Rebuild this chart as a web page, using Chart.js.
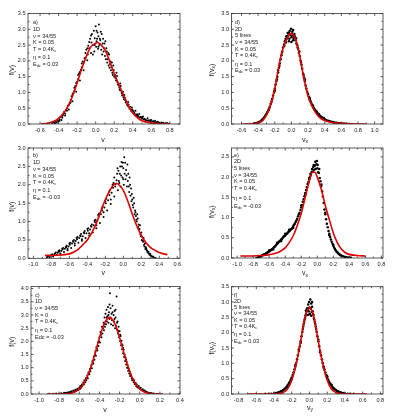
<!DOCTYPE html>
<html>
<head>
<meta charset="utf-8">
<script src="https://cdn.jsdelivr.net/npm/chart.js@4/dist/chart.umd.min.js"></script>
<style>
  body { margin: 0; background: #fff; width: 399px; height: 420px; position: relative; overflow: hidden; }
  canvas { position: absolute; }
</style>
</head>
<body>
<canvas id="pa" width="200" height="145" style="left:0;top:0"></canvas>
<canvas id="pd" width="199" height="145" style="left:200px;top:0"></canvas>
<canvas id="pb" width="200" height="136" style="left:0;top:144px"></canvas>
<canvas id="pe" width="199" height="136" style="left:200px;top:144px"></canvas>
<canvas id="pc" width="200" height="140" style="left:0;top:280px"></canvas>
<canvas id="pf" width="199" height="140" style="left:200px;top:280px"></canvas>
<script>
// ---- tick labels ----
const aXTicks = [-0.6, -0.4, -0.2, 0.0, 0.2, 0.4, 0.6, 0.8];
const dXTicks = [-0.6, -0.4, -0.2, 0.0, 0.2, 0.4, 0.6, 0.8, 1.0];
const bXTicks = [-1.0, -0.8, -0.6, -0.4, -0.2, 0.0, 0.2, 0.4, 0.6];
const eXTicks = [-1.0, -0.8, -0.6, -0.4, -0.2, 0.0, 0.2, 0.4, 0.6, 0.8];
const cXTicks = [-1.0, -0.8, -0.6, -0.4, -0.2, 0.0, 0.2, 0.4];
const fXTicks = [-0.8, -0.6, -0.4, -0.2, 0.0, 0.2, 0.4, 0.6, 0.8];
const yTicks35 = [0, 0.5, 1.0, 1.5, 2.0, 2.5, 3.0, 3.5];
const yTicks30 = [0, 0.5, 1.0, 1.5, 2.0, 2.5, 3.0];
const yTicks25 = [0, 0.5, 1.0, 1.5, 2.0, 2.5];
const yTicks40 = [0, 0.5, 1.0, 1.5, 2.0, 2.5, 3.0, 3.5, 4.0];

// ---- panel a) 1D, Edc = 0.03 ----
const aDots = [[-0.47,0.03],[-0.45,0.05],[-0.44,0.02],[-0.43,0.07],[-0.41,0.11],[-0.40,0.08],
  [-0.39,0.15],[-0.38,0.22],[-0.37,0.13],[-0.36,0.25],[-0.35,0.29],[-0.34,0.38],[-0.33,0.27],[-0.32,0.44],
  [-0.31,0.5],[-0.30,0.58],[-0.29,0.46],[-0.28,0.66],[-0.27,0.76],[-0.26,0.88],[-0.25,0.72],[-0.24,0.98],
  [-0.23,1.05],[-0.22,1.2],[-0.21,1.02],[-0.20,1.33],[-0.19,1.42],[-0.18,1.6],[-0.17,1.38],[-0.16,1.72],
  [-0.15,1.8],[-0.14,1.98],[-0.13,1.7],[-0.12,2.08],[-0.11,2.1],[-0.10,2.35],[-0.09,2.02],[-0.08,2.48],[-0.085,2.2],
  [-0.07,2.4],[-0.06,2.7],[-0.05,2.25],[-0.045,2.58],[-0.04,2.85],[-0.03,2.5],[-0.02,2.95],[-0.015,2.3],
  [-0.01,2.72],[0.0,3.1],[0.005,2.45],[0.01,2.62],[0.02,2.9],[0.025,2.38],[0.03,2.78],[0.035,3.15],[0.04,2.5],
  [0.05,2.65],[0.06,2.35],[0.065,2.85],[0.07,2.2],[0.075,2.55],[0.09,2.4],[0.10,2.15],[0.105,2.62],[0.11,2.05],
  [0.12,2.3],[0.13,2.05],[0.14,1.85],[0.145,2.2],[0.15,1.78],[0.16,1.98],[0.17,1.8],[0.18,1.62],[0.19,1.85],
  [0.20,1.5],[0.21,1.55],[0.22,1.38],[0.23,1.52],[0.24,1.25],[0.25,1.22],[0.26,1.08],[0.27,1.2],[0.28,0.98],
  [0.29,0.95],[0.30,0.85],[0.31,0.92],[0.32,0.75],[0.33,0.72],[0.34,0.62],[0.35,0.7],[0.36,0.55],[0.37,0.55],
  [0.38,0.45],[0.39,0.52],[0.40,0.42],[0.41,0.4],[0.42,0.33],[0.43,0.42],[0.44,0.3],[0.45,0.3],[0.46,0.24],
  [0.47,0.32],[0.48,0.22],[0.49,0.22],[0.50,0.17],[0.51,0.24],[0.52,0.15],[0.53,0.16],[0.55,0.12],[0.56,0.18],
  [0.57,0.11],[0.59,0.09],[0.60,0.13],[0.61,0.08],[0.63,0.06],[0.64,0.1],[0.65,0.05],[0.67,0.07],[0.68,0.04],
  [0.69,0.04],[0.71,0.05],[0.72,0.03],[0.73,0.03],[0.75,0.02],[0.77,0.03],[0.79,0.01],
  [-0.42,0.05],[-0.39,0.1],[-0.36,0.2],[-0.33,0.33],[-0.31,0.42],[-0.29,0.6],[-0.27,0.68],[-0.25,0.95],
  [-0.23,1.15],[-0.21,1.3],[-0.19,1.55],[-0.17,1.65],[-0.15,1.92],[-0.13,1.95],[-0.11,2.25],[-0.09,2.4],
  [-0.07,2.6],[-0.05,2.8],[-0.03,2.2],[-0.01,2.5],[0.01,2.95],[0.015,2.7],[0.03,2.45],[0.045,2.7],[0.055,2.92],
  [0.08,2.7],[0.085,2.3],[0.095,2.55],[0.115,2.4],[0.125,1.95],[0.135,2.25],[0.155,1.9],[0.165,1.7],[0.175,1.95],
  [0.185,1.55],[0.195,1.7],[0.215,1.45],[0.225,1.62],[0.235,1.32],[0.255,1.15],[0.265,1.28],[0.275,1.05],
  [0.285,0.9],[0.295,1.02],[0.305,0.78],[0.315,0.82],[0.325,0.68],[0.345,0.58],[0.355,0.62],[0.365,0.48],
  [0.385,0.4],[0.395,0.46],[0.415,0.35],[0.435,0.28],[0.455,0.26],[0.475,0.2],[0.505,0.2],[0.535,0.13],
  [0.565,0.1],[0.585,0.12],[0.62,0.09],[0.66,0.06]];
const aCurve = [[-0.59,0.0],[-0.55,0.01],[-0.5,0.04],[-0.45,0.09],[-0.4,0.18],[-0.35,0.33],[-0.3,0.55],
  [-0.25,0.88],[-0.2,1.3],[-0.15,1.75],[-0.1,2.15],[-0.05,2.45],[0,2.56],[0.02,2.58],[0.05,2.53],[0.1,2.35],
  [0.15,2.0],[0.2,1.6],[0.25,1.25],[0.3,0.92],[0.35,0.6],[0.4,0.35],[0.45,0.2],[0.5,0.1],[0.55,0.06],
  [0.6,0.03],[0.7,0.01],[0.8,0.0]];
const aNotes = ['a)', '1D', 'ν = 34/55', 'K = 0.05', 'T = 0.4K_{c}', 'η = 0.1', 'E_{dc} = 0.03'];

// ---- panel d) 2D, 5 lines, Edc = 0.03 ----
const dDots = [[-0.46,0.01],[-0.44,0.02],[-0.42,0.03],[-0.40,0.05],[-0.39,0.06],[-0.37,0.09],[-0.36,0.11],
  [-0.35,0.14],[-0.34,0.16],[-0.33,0.2],[-0.32,0.23],[-0.31,0.28],[-0.30,0.32],[-0.29,0.37],[-0.28,0.42],
  [-0.27,0.49],[-0.27,0.45],[-0.26,0.55],[-0.25,0.63],[-0.24,0.7],[-0.235,0.76],[-0.23,0.8],[-0.22,0.9],
  [-0.21,1.0],[-0.205,1.05],[-0.20,1.12],[-0.20,1.05],[-0.19,1.25],[-0.18,1.36],[-0.175,1.42],[-0.17,1.5],
  [-0.16,1.63],[-0.16,1.7],[-0.15,1.78],[-0.145,1.84],[-0.14,1.92],[-0.13,2.05],[-0.12,2.18],[-0.115,2.25],
  [-0.11,2.3],[-0.10,2.42],[-0.09,2.52],[-0.085,2.48],[-0.08,2.62],[-0.07,2.7],[-0.065,2.58],[-0.06,2.78],
  [-0.05,2.72],[-0.045,2.88],[-0.04,2.8],[-0.03,2.9],[-0.03,2.62],[-0.025,2.7],[-0.02,2.95],[-0.01,2.82],
  [-0.005,3.02],[0.0,2.75],[0.0,2.6],[0.01,2.92],[0.015,2.8],[0.02,2.98],[0.02,2.65],[0.03,2.72],[0.035,2.85],
  [0.04,2.78],[0.05,2.65],[0.055,2.72],[0.06,2.55],[0.07,2.5],[0.075,2.42],[0.08,2.38],[0.09,2.25],[0.095,2.3],
  [0.10,2.15],[0.11,2.0],[0.115,1.95],[0.12,1.88],[0.13,1.75],[0.14,1.6],[0.145,1.55],[0.15,1.48],[0.16,1.36],
  [0.16,1.42],[0.17,1.22],[0.18,1.12],[0.19,1.02],[0.20,0.95],[0.21,0.86],[0.22,0.78],[0.22,0.82],[0.23,0.72],
  [0.24,0.65],[0.25,0.6],[0.26,0.55],[0.26,0.58],[0.27,0.5],[0.28,0.46],[0.29,0.42],[0.30,0.38],[0.30,0.4],
  [0.31,0.35],[0.32,0.32],[0.33,0.29],[0.33,0.32],[0.34,0.27],[0.35,0.24],[0.36,0.22],[0.37,0.2],[0.38,0.18],
  [0.39,0.19],[0.40,0.15],[0.41,0.13],[0.42,0.12],[0.44,0.1],[0.46,0.085],[0.48,0.07],[0.50,0.06],[0.52,0.05],
  [0.54,0.04],[0.56,0.035],[0.58,0.025],[0.60,0.02],[0.63,0.015],[0.66,0.01]];
const dCurve = [[-0.59,0.0],[-0.5,0.0],[-0.45,0.01],[-0.4,0.04],[-0.35,0.1],[-0.3,0.28],[-0.25,0.6],
  [-0.2,1.12],[-0.15,1.85],[-0.1,2.4],[-0.05,2.72],[0,2.87],[0.05,2.68],[0.1,2.15],[0.15,1.45],[0.2,0.88],
  [0.25,0.55],[0.3,0.32],[0.35,0.18],[0.4,0.11],[0.5,0.04],[0.6,0.02],[0.7,0.01],[0.8,0.0],[0.9,0.0]];
const dNotes = ['d)', '2D', '5 lines', 'ν = 34/55', 'K = 0.05', 'T = 0.4K_{c}', 'η = 0.1', 'E_{dc} = 0.03'];

// ---- panel b) 1D, Edc = -0.03 ----
const bDots = [[-0.85,0.03],[-0.83,0.06],[-0.82,0.02],[-0.81,0.07],[-0.79,0.11],[-0.78,0.05],[-0.77,0.1],
  [-0.75,0.16],[-0.74,0.09],[-0.73,0.15],[-0.71,0.22],[-0.70,0.13],[-0.715,0.18],[-0.69,0.2],[-0.67,0.28],
  [-0.66,0.17],[-0.675,0.24],[-0.65,0.26],[-0.63,0.34],[-0.62,0.22],[-0.635,0.3],[-0.61,0.32],[-0.59,0.42],
  [-0.58,0.28],[-0.595,0.37],[-0.57,0.4],[-0.55,0.5],[-0.54,0.35],[-0.555,0.45],[-0.53,0.47],[-0.51,0.58],
  [-0.50,0.42],[-0.515,0.52],[-0.49,0.55],[-0.47,0.66],[-0.46,0.48],[-0.475,0.6],[-0.45,0.6],[-0.43,0.74],
  [-0.42,0.55],[-0.435,0.68],[-0.41,0.68],[-0.39,0.82],[-0.38,0.62],[-0.395,0.75],[-0.37,0.78],[-0.35,0.92],
  [-0.34,0.7],[-0.355,0.86],[-0.33,0.9],[-0.31,1.05],[-0.30,0.82],[-0.315,0.98],[-0.29,1.02],[-0.27,1.22],
  [-0.26,0.96],[-0.275,1.12],[-0.25,1.2],[-0.23,1.4],[-0.22,1.12],[-0.235,1.3],[-0.21,1.38],[-0.19,1.62],
  [-0.18,1.3],[-0.195,1.5],[-0.17,1.58],[-0.15,1.85],[-0.14,1.48],[-0.155,1.72],[-0.13,1.78],[-0.11,2.05],
  [-0.10,1.68],[-0.115,1.92],[-0.09,1.95],[-0.07,2.3],[-0.06,1.85],[-0.075,2.12],[-0.065,2.45],[-0.05,2.1],
  [-0.035,2.5],[-0.03,1.95],[-0.04,2.3],[-0.02,2.62],[-0.01,2.2],[0.0,2.45],[0.005,2.0],[0.01,2.75],
  [-0.005,2.6],[0.015,2.3],[0.025,2.15],[0.03,2.4],[0.04,1.95],[0.045,2.55],[0.05,2.1],[0.06,1.95],[0.07,2.2],
  [0.08,1.7],[0.085,1.9],[0.09,1.55],[0.10,1.6],[0.11,1.38],[0.12,1.5],[0.125,1.2],[0.13,1.3],[0.14,1.15],
  [0.15,1.0],[0.16,1.08],[0.165,0.85],[0.17,0.92],[0.18,0.8],[0.19,0.65],[0.20,0.7],[0.205,0.5],[0.21,0.58],
  [0.22,0.45],[0.23,0.36],[0.24,0.4],[0.245,0.25],[0.25,0.3],[0.26,0.22],[0.27,0.16],[0.28,0.18],[0.29,0.1],
  [0.30,0.08],[0.31,0.06],[0.32,0.04],[0.34,0.02],[0.36,0.01],
  [-0.84,0.05],[-0.80,0.09],[-0.76,0.13],[-0.72,0.2],[-0.68,0.26],[-0.64,0.31],[-0.6,0.4],[-0.56,0.47],
  [-0.52,0.55],[-0.48,0.62],[-0.44,0.7],[-0.4,0.8],[-0.36,0.88],[-0.32,1.02],[-0.28,1.18],[-0.24,1.36],
  [-0.2,1.55],[-0.16,1.8],[-0.12,2.0],[-0.1,2.2],[-0.085,2.02],[-0.055,2.38],[-0.045,2.05],[-0.025,2.25],
  [-0.015,2.5],[0.0,2.15],[0.02,2.6],[0.035,2.25],[0.055,2.3],[0.065,1.8],[0.075,2.0],[0.095,1.75],
  [0.105,1.45],[0.115,1.65],[0.135,1.25],[0.145,1.05],[0.155,1.2],[0.175,0.78],[0.185,0.9],[0.195,0.6],
  [0.215,0.48],[0.225,0.55],[0.235,0.32],[0.255,0.26],[0.265,0.2],[0.285,0.13],[0.3,0.12],[0.33,0.05],
  [-0.7,0.1],[-0.62,0.25],[-0.54,0.4],[-0.46,0.52],[-0.38,0.68],[-0.3,0.9],[-0.22,1.25],[-0.14,1.6]];
const bCurve = [[-0.87,0.08],[-0.8,0.08],[-0.7,0.09],[-0.6,0.12],[-0.55,0.17],[-0.5,0.25],[-0.45,0.37],
  [-0.4,0.5],[-0.35,0.7],[-0.3,0.95],[-0.25,1.28],[-0.2,1.6],[-0.15,1.85],[-0.1,2.02],[-0.08,2.04],[-0.05,2.0],
  [0,1.85],[0.05,1.55],[0.1,1.2],[0.15,0.88],[0.2,0.62],[0.25,0.43],[0.3,0.3],[0.35,0.22],[0.4,0.16],
  [0.45,0.12],[0.49,0.1]];
const bNotes = ['b)', '1D', 'ν = 34/55', 'K = 0.05', 'T = 0.4K_{c}', 'η = 0.1', 'E_{dc} = -0.03'];

// ---- panel e) 2D, 5 lines, Edc = -0.03 ----
const eDots = [[-0.76,0.0],[-0.74,0.01],[-0.73,0.02],[-0.72,0.03],[-0.71,0.04],[-0.70,0.05],[-0.69,0.06],
  [-0.68,0.07],[-0.67,0.08],[-0.66,0.09],[-0.65,0.1],[-0.64,0.11],[-0.63,0.12],[-0.62,0.14],[-0.61,0.15],
  [-0.60,0.16],[-0.60,0.19],[-0.59,0.18],[-0.58,0.19],[-0.57,0.21],[-0.56,0.22],[-0.55,0.24],[-0.55,0.21],
  [-0.54,0.27],[-0.53,0.28],[-0.52,0.3],[-0.51,0.33],[-0.50,0.35],[-0.50,0.38],[-0.49,0.37],[-0.48,0.4],
  [-0.47,0.41],[-0.46,0.43],[-0.45,0.46],[-0.45,0.42],[-0.44,0.47],[-0.43,0.5],[-0.42,0.53],[-0.41,0.54],
  [-0.40,0.56],[-0.40,0.6],[-0.39,0.59],[-0.38,0.6],[-0.37,0.62],[-0.36,0.65],[-0.35,0.66],[-0.35,0.7],
  [-0.34,0.68],[-0.33,0.71],[-0.32,0.72],[-0.31,0.75],[-0.30,0.79],[-0.30,0.75],[-0.29,0.82],[-0.28,0.85],
  [-0.27,0.89],[-0.26,0.93],[-0.25,0.97],[-0.24,1.03],[-0.23,1.08],[-0.22,1.12],[-0.21,1.19],[-0.20,1.25],
  [-0.20,1.3],[-0.19,1.31],[-0.18,1.39],[-0.17,1.45],[-0.16,1.53],[-0.15,1.61],[-0.15,1.56],[-0.14,1.68],
  [-0.13,1.75],[-0.12,1.83],[-0.11,1.88],[-0.10,1.95],[-0.10,1.98],[-0.09,2.01],[-0.085,2.08],[-0.08,2.05],
  [-0.07,2.12],[-0.065,2.2],[-0.06,2.14],[-0.05,2.25],[-0.045,2.3],[-0.04,2.18],[-0.03,2.28],[-0.025,2.38],
  [-0.02,2.2],[-0.01,2.32],[-0.005,2.4],[0.0,2.22],[0.005,2.3],[0.01,2.12],[0.02,2.1],[0.025,2.2],[0.03,1.98],
  [0.04,1.9],[0.05,1.78],[0.05,1.82],[0.06,1.65],[0.07,1.52],[0.08,1.36],[0.09,1.2],[0.10,1.08],[0.10,1.12],
  [0.11,0.96],[0.12,0.85],[0.13,0.76],[0.14,0.67],[0.15,0.6],[0.15,0.56],[0.16,0.52],[0.17,0.46],[0.18,0.4],
  [0.19,0.35],[0.20,0.3],[0.20,0.33],[0.21,0.26],[0.22,0.22],[0.23,0.19],[0.24,0.16],[0.25,0.14],[0.26,0.12],
  [0.27,0.1],[0.28,0.085],[0.29,0.07],[0.30,0.06],[0.32,0.045],[0.34,0.03],[0.36,0.02],[0.38,0.015],
  [0.40,0.01],[0.42,0.005]];
const eCurve = [[-0.96,0.05],[-0.8,0.05],[-0.7,0.06],[-0.6,0.08],[-0.5,0.13],[-0.45,0.18],[-0.4,0.25],
  [-0.35,0.38],[-0.3,0.55],[-0.25,0.8],[-0.2,1.1],[-0.15,1.5],[-0.1,1.9],[-0.06,2.12],[-0.03,2.12],[0,2.0],
  [0.05,1.7],[0.1,1.3],[0.15,0.95],[0.2,0.62],[0.25,0.38],[0.3,0.22],[0.35,0.13],[0.4,0.09],[0.5,0.06],
  [0.6,0.05]];
const eNotes = ['e)', '2D', '5 lines', 'ν = 34/55', 'K = 0.05', 'T = 0.4K_{c}', 'η = 0.1', 'E_{dc} = -0.03'];

// ---- panel c) 1D, K = 0 ----
const cDots = [[-0.86,0.01],[-0.83,0.02],[-0.80,0.01],[-0.78,0.03],[-0.76,0.02],[-0.75,0.05],[-0.73,0.03],
  [-0.72,0.06],[-0.71,0.04],[-0.70,0.08],[-0.69,0.05],[-0.68,0.1],[-0.67,0.07],[-0.66,0.13],[-0.65,0.09],
  [-0.64,0.16],[-0.63,0.12],[-0.62,0.2],[-0.61,0.15],[-0.60,0.25],[-0.595,0.19],[-0.59,0.3],[-0.58,0.24],
  [-0.575,0.36],[-0.57,0.3],[-0.56,0.44],[-0.555,0.36],[-0.55,0.52],[-0.54,0.45],[-0.535,0.6],[-0.53,0.52],
  [-0.52,0.7],[-0.515,0.6],[-0.51,0.82],[-0.50,0.75],[-0.495,0.95],[-0.49,0.86],[-0.48,1.1],[-0.475,0.98],
  [-0.47,1.25],[-0.46,1.15],[-0.455,1.42],[-0.45,1.3],[-0.44,1.6],[-0.435,1.45],[-0.43,1.78],[-0.42,1.65],
  [-0.415,1.95],[-0.41,1.82],[-0.40,2.15],[-0.395,1.95],[-0.39,2.35],[-0.38,2.15],[-0.375,2.55],[-0.37,2.3],
  [-0.36,2.7],[-0.355,2.42],[-0.35,2.9],[-0.345,2.55],[-0.34,3.05],[-0.335,2.65],[-0.33,3.2],[-0.325,2.75],
  [-0.32,2.95],[-0.315,3.3],[-0.31,2.7],[-0.305,3.1],[-0.30,2.85],[-0.295,3.82],[-0.29,3.25],[-0.285,2.65],
  [-0.28,3.05],[-0.275,2.8],[-0.27,3.35],[-0.265,2.6],[-0.26,3.0],[-0.255,2.75],[-0.25,3.15],[-0.245,2.5],
  [-0.24,2.9],[-0.235,2.6],[-0.23,3.7],[-0.225,2.45],[-0.22,2.75],[-0.215,2.3],[-0.21,2.55],[-0.205,2.15],
  [-0.20,2.38],[-0.195,2.0],[-0.19,2.2],[-0.185,1.85],[-0.18,2.02],[-0.175,1.7],[-0.17,1.85],[-0.165,1.55],
  [-0.16,1.68],[-0.155,1.4],[-0.15,1.5],[-0.145,1.25],[-0.14,1.38],[-0.135,1.12],[-0.13,1.22],[-0.125,1.0],
  [-0.12,1.1],[-0.115,0.88],[-0.11,0.98],[-0.105,0.78],[-0.10,0.85],[-0.095,0.68],[-0.09,0.75],[-0.08,0.6],
  [-0.075,0.52],[-0.07,0.58],[-0.06,0.45],[-0.055,0.52],[-0.05,0.38],[-0.04,0.42],[-0.035,0.3],[-0.03,0.36],
  [-0.02,0.25],[-0.01,0.3],[0.0,0.2],[0.01,0.24],[0.02,0.14],[0.03,0.18],[0.04,0.1],[0.05,0.13],[0.06,0.07],
  [0.07,0.09],[0.08,0.05],[0.10,0.04],[0.12,0.03],[0.14,0.02],[0.17,0.01],
  [-0.74,0.04],[-0.68,0.07],[-0.64,0.12],[-0.62,0.15],[-0.6,0.2],[-0.58,0.3],[-0.56,0.38],[-0.545,0.5],
  [-0.525,0.62],[-0.505,0.78],[-0.485,0.98],[-0.465,1.2],[-0.445,1.5],[-0.425,1.72],[-0.405,2.0],[-0.385,2.25],
  [-0.365,2.5],[-0.35,2.65],[-0.33,2.9],[-0.31,3.0],[-0.3,3.4],[-0.29,2.9],[-0.27,3.1],[-0.25,2.85],[-0.24,3.2],
  [-0.225,2.7],[-0.21,2.4],[-0.195,2.25],[-0.18,1.9],[-0.165,1.75],[-0.15,1.42],[-0.135,1.3],[-0.12,1.0],
  [-0.105,0.9],[-0.09,0.7],[-0.075,0.58],[-0.06,0.5],[-0.045,0.4],[-0.03,0.28],[-0.015,0.26],[0.0,0.22],
  [0.02,0.16],[0.04,0.12],[0.06,0.08],[0.09,0.05],[0.11,0.03]];
const cCurve = [[-0.92,0.0],[-0.8,0.0],[-0.7,0.02],[-0.65,0.07],[-0.6,0.19],[-0.55,0.43],[-0.5,0.86],
  [-0.45,1.46],[-0.4,2.14],[-0.35,2.69],[-0.3,2.9],[-0.25,2.69],[-0.2,2.14],[-0.15,1.46],[-0.1,0.86],
  [-0.05,0.43],[0,0.19],[0.05,0.07],[0.1,0.02],[0.15,0.0],[0.23,0.0]];
const cNotes = ['c)', '1D', 'ν = 34/55', 'K = 0', 'T = 0.4K_{c}', 'η = 0.1', 'Edc = -0.03'];

// ---- panel f) 2D, 5 lines, v_y ----
const fDots = [[-0.5,0.0],[-0.46,0.01],[-0.43,0.01],[-0.40,0.02],[-0.38,0.03],[-0.36,0.04],[-0.35,0.05],
  [-0.34,0.06],[-0.33,0.07],[-0.32,0.09],[-0.31,0.1],[-0.30,0.12],[-0.29,0.14],[-0.28,0.17],[-0.27,0.19],
  [-0.26,0.23],[-0.25,0.27],[-0.25,0.24],[-0.24,0.31],[-0.23,0.36],[-0.22,0.41],[-0.21,0.47],[-0.20,0.54],
  [-0.20,0.5],[-0.19,0.62],[-0.18,0.7],[-0.17,0.8],[-0.16,0.9],[-0.16,0.95],[-0.15,1.01],[-0.14,1.13],
  [-0.13,1.26],[-0.12,1.4],[-0.12,1.46],[-0.11,1.55],[-0.10,1.72],[-0.10,1.66],[-0.09,1.88],[-0.08,2.03],
  [-0.075,2.12],[-0.07,2.2],[-0.065,2.28],[-0.06,2.35],[-0.055,2.42],[-0.05,2.48],[-0.045,2.55],[-0.04,2.6],
  [-0.04,2.72],[-0.035,2.68],[-0.03,2.72],[-0.025,2.8],[-0.02,2.75],[-0.02,2.58],[-0.015,2.92],[-0.01,2.7],
  [-0.005,3.0],[0.0,2.82],[0.0,2.6],[0.005,2.62],[0.01,3.08],[0.015,2.78],[0.02,2.95],[0.02,2.55],[0.025,2.68],
  [0.03,2.85],[0.03,3.0],[0.035,2.7],[0.04,2.62],[0.045,2.58],[0.05,2.48],[0.055,2.42],[0.06,2.35],[0.065,2.28],
  [0.07,2.2],[0.075,2.12],[0.08,2.03],[0.09,1.88],[0.10,1.72],[0.10,1.78],[0.11,1.56],[0.12,1.4],[0.12,1.35],
  [0.13,1.26],[0.14,1.13],[0.15,1.01],[0.16,0.9],[0.16,0.86],[0.17,0.8],[0.18,0.7],[0.19,0.62],[0.20,0.54],
  [0.20,0.58],[0.21,0.47],[0.22,0.41],[0.23,0.36],[0.24,0.31],[0.25,0.27],[0.25,0.3],[0.26,0.23],[0.27,0.19],
  [0.28,0.17],[0.29,0.14],[0.30,0.12],[0.31,0.1],[0.32,0.09],[0.33,0.07],[0.34,0.06],[0.35,0.05],[0.36,0.04],
  [0.38,0.03],[0.40,0.02],[0.43,0.01],[0.46,0.01],[0.5,0.0]];
const fCurve = [[-0.7,0.0],[-0.5,0.0],[-0.4,0.005],[-0.35,0.015],[-0.3,0.05],[-0.25,0.15],[-0.2,0.45],
  [-0.15,0.98],[-0.1,1.72],[-0.05,2.5],[0,2.82],[0.05,2.5],[0.1,1.72],[0.15,0.98],[0.2,0.45],[0.25,0.15],
  [0.3,0.05],[0.35,0.015],[0.4,0.005],[0.5,0.0],[0.65,0.0]];
const fNotes = ['f)', '2D', '5 lines', 'ν = 34/55', 'K = 0.05', 'T = 0.4K_{c}', 'η = 0.1', 'E_{dc} = 0.03'];

const RED = '#e00000';
const INK = '#222';
const FONT = '"Liberation Sans", Arial, sans-serif';

// text with _{sub} parts
function richWidth(ctx, str, size) {
  let w = 0;
  str.split(/_\{([^}]*)\}/).forEach((p, i) => {
    ctx.font = (i % 2 ? size * 0.72 : size) + 'px ' + FONT;
    w += ctx.measureText(p).width;
  });
  return w;
}
function drawRich(ctx, str, x, y, size) {
  let cx = x;
  str.split(/_\{([^}]*)\}/).forEach((p, i) => {
    const sub = i % 2 === 1;
    ctx.font = (sub ? size * 0.72 : size) + 'px ' + FONT;
    ctx.fillText(p, cx, sub ? y + size * 0.3 : y);
    cx += ctx.measureText(p).width;
  });
}

// box around the plot with inward ticks on all four sides
const frameBox = {
  id: 'frameBox',
  afterDatasetsDraw(chart, args, opts) {
    const { ctx, chartArea: a, scales: { x, y } } = chart;
    ctx.save();
    ctx.strokeStyle = '#333';
    ctx.lineWidth = 0.8;
    ctx.strokeRect(a.left, a.top, a.right - a.left, a.bottom - a.top);
    const mids = (t) => t.slice(1).map((v, i) => (v + t[i]) / 2);
    ctx.beginPath();
    const xt = (vals, len) => vals.forEach(v => {
      const px = x.getPixelForValue(v);
      if (px < a.left - 0.5 || px > a.right + 0.5) return;
      ctx.moveTo(px, a.bottom); ctx.lineTo(px, a.bottom - len);
      ctx.moveTo(px, a.top); ctx.lineTo(px, a.top + len);
    });
    const yt = (vals, len) => vals.forEach(v => {
      const py = y.getPixelForValue(v);
      if (py < a.top - 0.5 || py > a.bottom + 0.5) return;
      ctx.moveTo(a.left, py); ctx.lineTo(a.left + len, py);
      ctx.moveTo(a.right, py); ctx.lineTo(a.right - len, py);
    });
    xt(opts.xTicks, 2.5); xt(mids(opts.xTicks), 1.5);
    yt(opts.yTicks, 2.5); yt(mids(opts.yTicks), 1.5);
    ctx.stroke();
    ctx.restore();
  }
};

// annotation block and axis titles
const notes = {
  id: 'notes',
  afterDraw(chart, args, opts) {
    const ctx = chart.ctx;
    ctx.save();
    ctx.fillStyle = INK;
    ctx.textBaseline = 'middle';
    ctx.textAlign = 'left';
    opts.lines.forEach((s, i) => drawRich(ctx, s, opts.x, opts.rows[i], 5.6));
    const t = opts.xTitle;
    drawRich(ctx, t.text, t.x - richWidth(ctx, t.text, 7) / 2, t.y, 7);
    const u = opts.yTitle;
    ctx.translate(u.x, u.y);
    ctx.rotate(-Math.PI / 2);
    drawRich(ctx, u.text, -richWidth(ctx, u.text, 7) / 2, 0, 7);
    ctx.restore();
  }
};

function makePanel(id, p) {
  const el = document.getElementById(id);
  const W = el.width, H = el.height;
  const [L, T, R, B] = p.area;
  const tickFont = { family: FONT, size: 5.6 };
  const noPad = s => { s.paddingLeft = 0; s.paddingRight = 0; s.paddingTop = 0; s.paddingBottom = 0; };
  return new Chart(el, {
    type: 'scatter',
    data: {
      datasets: [
        { data: p.curve, showLine: true, borderColor: RED, borderWidth: 1.6, pointRadius: 0,
          cubicInterpolationMode: 'monotone', order: 0 },
        { data: p.dots, pointRadius: p.dot, pointBackgroundColor: '#000', pointBorderWidth: 0, order: 1 }
      ]
    },
    options: {
      responsive: false,
      animation: false,
      events: [],
      layout: { padding: { left: 0, top: T, right: W - R, bottom: 0 } },
      plugins: {
        legend: { display: false },
        tooltip: { enabled: false },
        frameBox: { xTicks: p.xTicks, yTicks: p.yTicks },
        notes: { lines: p.notes, x: p.noteX, rows: p.rows, xTitle: p.xTitle, yTitle: p.yTitle }
      },
      scales: {
        x: {
          type: 'linear', min: p.xMin, max: p.xMax,
          grid: { display: false, drawTicks: false }, border: { display: false },
          ticks: { font: tickFont, color: INK, padding: 3, maxRotation: 0, autoSkip: false,
                   callback: v => v.toFixed(1) },
          afterBuildTicks: s => { s.ticks = p.xTicks.map(v => ({ value: v })); },
          afterFit: s => { s.height = H - B; noPad(s); }
        },
        y: {
          type: 'linear', min: 0, max: p.yMax,
          grid: { display: false, drawTicks: false }, border: { display: false },
          ticks: { font: tickFont, color: INK, padding: 2.5, autoSkip: false,
                   callback: v => v.toFixed(1) },
          afterBuildTicks: s => { s.ticks = p.yTicks.map(v => ({ value: v })); },
          afterFit: s => { s.width = L; noPad(s); }
        }
      }
    },
    plugins: [frameBox, notes]
  });
}

makePanel('pa', { area: [28, 13.5, 180, 124], xMin: -0.73, xMax: 0.91, yMax: 3.5,
  xTicks: aXTicks, yTicks: yTicks35, dots: aDots, curve: aCurve, notes: aNotes, dot: 1.0,
  noteX: 33, rows: [22.3, 29.3, 36, 42.5, 49.3, 57.3, 64],
  xTitle: { text: 'v', x: 103, y: 140 }, yTitle: { text: 'f(v)', x: 11.7, y: 70 } });

makePanel('pd', { area: [31.5, 13.5, 183, 124], xMin: -0.72, xMax: 1.1, yMax: 3.5,
  xTicks: dXTicks, yTicks: yTicks35, dots: dDots, curve: dCurve, notes: dNotes, dot: 1.25,
  noteX: 35, rows: [22.3, 29.3, 35.7, 42.7, 49.3, 55.7, 64, 70.7],
  xTitle: { text: 'v_{x}', x: 105, y: 140 }, yTitle: { text: 'f(v_{x})', x: 11.7, y: 70 } });

makePanel('pb', { area: [28, 2.7, 180, 114.3], xMin: -1.06, xMax: 0.63, yMax: 3.0,
  xTicks: bXTicks, yTicks: yTicks30, dots: bDots, curve: bCurve, notes: bNotes, dot: 1.0,
  noteX: 33, rows: [11.7, 18.7, 25.3, 32, 38.7, 46.7, 53.3],
  xTitle: { text: 'v', x: 103.3, y: 129.3 }, yTitle: { text: 'f(v)', x: 11.7, y: 62.7 } });

makePanel('pe', { area: [31.5, 3, 183, 114], xMin: -1.07, xMax: 0.82, yMax: 2.72,
  xTicks: eXTicks, yTicks: yTicks25, dots: eDots, curve: eCurve, notes: eNotes, dot: 1.25,
  noteX: 34, rows: [11, 17.7, 24.3, 31, 37.7, 44.3, 54.3, 62],
  xTitle: { text: 'v_{x}', x: 105, y: 129.3 }, yTitle: { text: 'f(v_{x})', x: 11.7, y: 67.7 } });

makePanel('pc', { area: [31, 6.5, 180, 114], xMin: -1.08, xMax: 0.4, yMax: 4.08,
  xTicks: cXTicks, yTicks: yTicks40, dots: cDots, curve: cCurve, notes: cNotes, dot: 1.0,
  noteX: 35, rows: [15, 21.7, 28.3, 35, 41.7, 50, 57.3],
  xTitle: { text: 'v', x: 105, y: 129.7 }, yTitle: { text: 'f(v)', x: 11.7, y: 61.7 } });

makePanel('pf', { area: [31.5, 6.7, 183, 114], xMin: -0.88, xMax: 0.83, yMax: 3.5,
  xTicks: fXTicks, yTicks: yTicks35, dots: fDots, curve: fCurve, notes: fNotes, dot: 1.25,
  noteX: 34, rows: [15, 21, 27.3, 33.3, 40, 46.7, 54.3, 61.7],
  xTitle: { text: 'v_{y}', x: 110, y: 128 }, yTitle: { text: 'f(v_{y})', x: 11.7, y: 68.3 } });
</script>
</body>
</html>
